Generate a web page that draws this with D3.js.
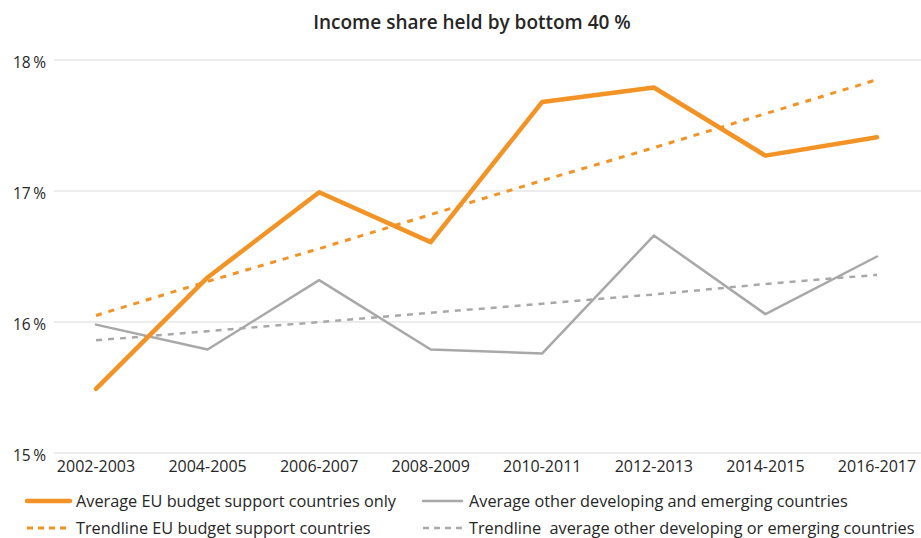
<!DOCTYPE html>
<html>
<head>
<meta charset="utf-8">
<script src="https://cdn.jsdelivr.net/npm/d3@7"></script>
<style>
  html, body { margin: 0; padding: 0; background: #fff; }
  svg { display: block; font-family: "Open Sans", "DejaVu Sans", sans-serif; }
  text { white-space: pre; }
</style>
</head>
<body>
<svg id="chart" width="921" height="538"></svg>
<script>
// Periods along the x axis
const periods = ["2002-2003", "2004-2005", "2006-2007", "2008-2009",
                 "2010-2011", "2012-2013", "2014-2015", "2016-2017"];

// Average income share of the bottom 40 % (percent)
const euBudgetSupport = [15.49, 16.34, 16.99, 16.61, 17.68, 17.79, 17.27, 17.41];
const otherDeveloping = [15.98, 15.79, 16.32, 15.79, 15.76, 16.66, 16.06, 16.50];

// Linear trendlines for the two averages
const euTrend    = [16.05, 16.31, 16.56, 16.82, 17.08, 17.33, 17.59, 17.85];
const otherTrend = [15.86, 15.93, 16.00, 16.07, 16.14, 16.21, 16.29, 16.36];

// Y axis ticks
const yTicks = [15, 16, 17, 18];

const title = "Income share held by bottom 40 %";
const legendLabels = [
  "Average EU budget support countries only",
  "Average other developing and emerging countries",
  "Trendline EU budget support countries",
  "Trendline  average other developing or emerging countries"
];

const ORANGE = "#F39325";
const GREY = "#A8A8A8";
const TEXT = "#262626";

const svg = d3.select("#chart");

const x = d3.scalePoint().domain(periods).range([96, 877]);
const y = d3.scaleLinear().domain([15, 18]).range([453, 60]);

// Title
svg.append("text")
  .attr("x", 472).attr("y", 29)
  .attr("text-anchor", "middle")
  .attr("font-size", 19).attr("font-weight", 600)
  .attr("fill", TEXT)
  .text(title);

// Horizontal gridlines
svg.append("g").selectAll("line").data(yTicks).join("line")
  .attr("x1", 54).attr("x2", 921)
  .attr("y1", d => y(d)).attr("y2", d => y(d))
  .attr("stroke", "#D9D9D9").attr("stroke-width", 1.2);

// Y tick labels
svg.append("g").selectAll("text").data(yTicks).join("text")
  .attr("x", 46).attr("y", d => y(d) + 8)
  .attr("text-anchor", "end")
  .attr("font-size", 15.5).attr("fill", TEXT)
  .text(d => d + "\u2009%");

// X tick labels
svg.append("g").selectAll("text").data(periods).join("text")
  .attr("x", d => x(d)).attr("y", 472)
  .attr("text-anchor", "middle")
  .attr("font-size", 16).attr("fill", TEXT)
  .text(d => d);

const line = d3.line()
  .x((d, i) => x(periods[i]))
  .y(d => y(d));

const series = [
  { values: otherTrend, color: GREY, width: 2.5, dash: "6,6" },
  { values: euTrend, color: ORANGE, width: 3, dash: "6,7" },
  { values: otherDeveloping, color: GREY, width: 2.5, dash: null },
  { values: euBudgetSupport, color: ORANGE, width: 4.5, dash: null }
];

svg.append("g").selectAll("path").data(series).join("path")
  .attr("d", d => line(d.values))
  .attr("fill", "none")
  .attr("stroke", d => d.color)
  .attr("stroke-width", d => d.width)
  .attr("stroke-dasharray", d => d.dash)
  .attr("stroke-linecap", d => d.dash ? "butt" : "round")
  .attr("stroke-linejoin", "round");

// Legend
const legendItems = [
  { label: legendLabels[0], color: ORANGE, width: 4.5, dash: null, x: 27, y: 501 },
  { label: legendLabels[1], color: GREY, width: 2.5, dash: null, x: 423, y: 501 },
  { label: legendLabels[2], color: ORANGE, width: 3, dash: "6,5", x: 27, y: 528 },
  { label: legendLabels[3], color: GREY, width: 2.5, dash: "6,5", x: 423, y: 528 }
];

const lg = svg.append("g").selectAll("g").data(legendItems).join("g")
  .attr("transform", d => `translate(${d.x},${d.y})`);

lg.append("line")
  .attr("x1", 0).attr("x2", d => d.color === ORANGE ? 43 : 39)
  .attr("y1", 0).attr("y2", 0)
  .attr("stroke", d => d.color)
  .attr("stroke-width", d => d.width)
  .attr("stroke-dasharray", d => d.dash)
  .attr("stroke-linecap", d => d.dash ? "butt" : "round");

lg.append("text")
  .attr("x", d => d.color === ORANGE ? 49 : 46)
  .attr("y", 5.5)
  .attr("font-size", 16.3).attr("fill", TEXT)
  .text(d => d.label);
</script>
</body>
</html>
